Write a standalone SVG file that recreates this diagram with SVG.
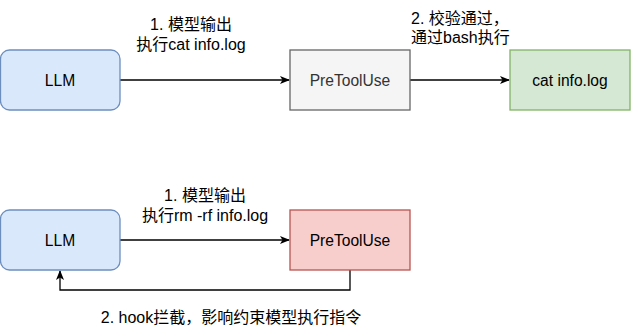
<svg xmlns="http://www.w3.org/2000/svg" width="631" height="330" viewBox="0 0 631 330">
<style>
.t{font-family:"Liberation Sans","Noto Sans CJK SC",sans-serif;font-size:15.6px;text-anchor:middle;dominant-baseline:central;fill:#000}
.lb{font-family:"Liberation Sans","Noto Sans CJK SC",sans-serif;font-size:16px;fill:#000}
.e{fill:none;stroke:#000;stroke-width:1.3}
</style>
<defs>
<marker id="a" viewBox="0 0 10 10" refX="9" refY="5" markerWidth="10" markerHeight="10" markerUnits="userSpaceOnUse" orient="auto">
<path d="M0,1 L10,5 L0,9 L2.5,5 Z" fill="#000"/>
</marker>
</defs>
<g id="connectors">
<path class="e" d="M120,80 L289,80" marker-end="url(#a)"/>
<path class="e" d="M410,80 L509,80" marker-end="url(#a)"/>
<path class="e" d="M120,240 L289,240" marker-end="url(#a)"/>
<path class="e" d="M350,270 L350,290 L60,290 L60,271" marker-end="url(#a)"/>
<text class="lb" text-anchor="middle" x="191" y="30">1. 模型输出</text>
<text class="lb" text-anchor="middle" x="191" y="50">执行cat info.log</text>
<text class="lb" x="411" y="24">2. 校验通过，</text>
<text class="lb" x="411" y="42.5">通过bash执行</text>
<text class="lb" text-anchor="middle" x="205" y="201">1. 模型输出</text>
<text class="lb" text-anchor="middle" x="205" y="221">执行rm -rf info.log</text>
<text class="lb" text-anchor="middle" x="231" y="323">2. hook拦截，影响约束模型执行指令</text>
</g>
<g id="llm1">
<rect x="0.5" y="50" width="119.5" height="60" rx="9" fill="#dae8fc" stroke="#6c8ebf" stroke-width="1.3"/>
<text class="t" x="60" y="80">LLM</text>
</g>
<g id="pre1">
<rect x="290" y="50" width="120" height="60" fill="#f5f5f5" stroke="#666666" stroke-width="1.3"/>
<text class="t" x="350" y="80" style="fill:#333">PreToolUse</text>
</g>
<g id="cat">
<rect x="510" y="50" width="120" height="60" fill="#d5e8d4" stroke="#82b366" stroke-width="1.3"/>
<text class="t" x="570" y="80">cat info.log</text>
</g>
<g id="llm2">
<rect x="0.5" y="210" width="119.5" height="60" rx="9" fill="#dae8fc" stroke="#6c8ebf" stroke-width="1.3"/>
<text class="t" x="60" y="240">LLM</text>
</g>
<g id="pre2">
<rect x="290" y="210" width="120" height="60" fill="#f8cecc" stroke="#b85450" stroke-width="1.3"/>
<text class="t" x="350" y="240">PreToolUse</text>
</g>
</svg>
